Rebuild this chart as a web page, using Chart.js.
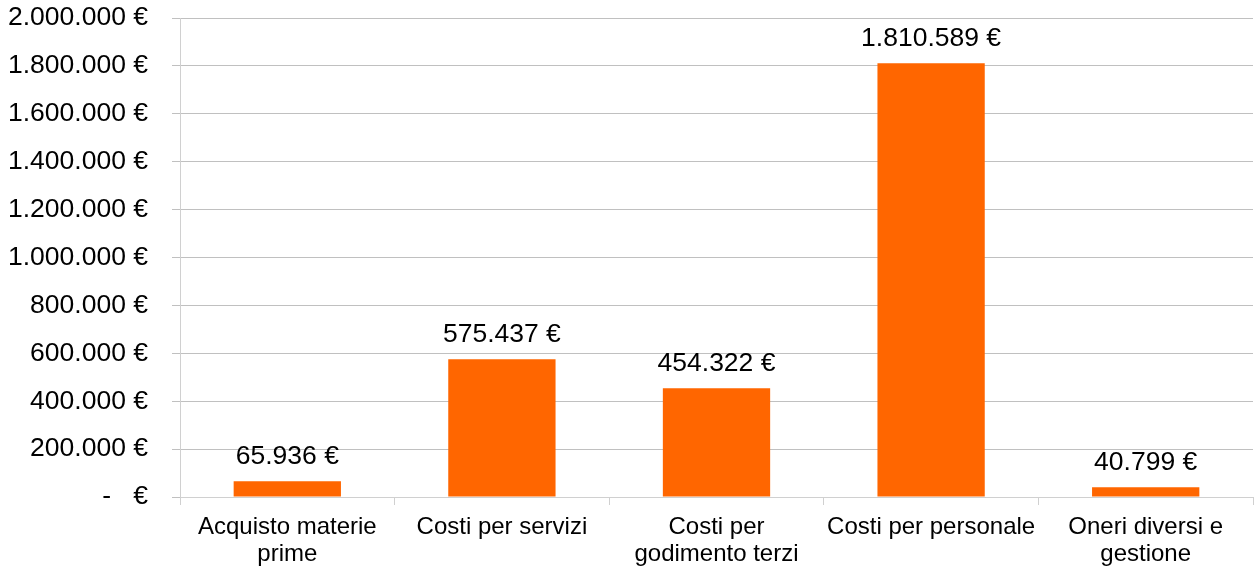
<!DOCTYPE html>
<html>
<head>
<meta charset="utf-8">
<script src="https://cdn.jsdelivr.net/npm/chart.js@4"></script>
<style>
  html, body { margin: 0; padding: 0; background: #fff; }
  #wrap { width: 1256px; height: 569px; }
</style>
</head>
<body>
<div id="wrap"><canvas id="costi"></canvas></div>
<script>
const categorie = [
  ["Acquisto materie", "prime"],
  "Costi per servizi",
  ["Costi per", "godimento terzi"],
  "Costi per personale",
  ["Oneri diversi e", "gestione"]
];
const importi = [65936, 575437, 454322, 1810589, 40799];

const yMax = 2000000;
const yStep = 200000;

function euro(v) {
  if (v === 0) return "-   €";
  return String(Math.round(v)).replace(/\B(?=(\d{3})+(?!\d))/g, ".") + " €";
}

// value labels above each bar
const etichette = {
  id: "etichette",
  afterDatasetsDraw(chart) {
    const ctx = chart.ctx;
    const meta = chart.getDatasetMeta(0);
    ctx.save();
    ctx.font = "26.5px 'Liberation Sans', Arial, sans-serif";
    ctx.fillStyle = "#000";
    ctx.textAlign = "center";
    ctx.textBaseline = "alphabetic";
    meta.data.forEach((bar, i) => {
      ctx.fillText(euro(importi[i]), bar.x, bar.y - 17);
    });
    ctx.restore();
  }
};

Chart.defaults.font.family = "'Liberation Sans', Arial, sans-serif";
Chart.defaults.color = "#000";

new Chart(document.getElementById("costi"), {
  type: "bar",
  data: {
    labels: categorie,
    datasets: [{
      data: importi,
      backgroundColor: "#ff6600",
      borderWidth: 0,
      categoryPercentage: 0.5,
      barPercentage: 1
    }]
  },
  options: {
    responsive: true,
    maintainAspectRatio: false,
    animation: false,
    layout: { padding: { top: 18, right: 3, left: 0, bottom: 0 } },
    plugins: {
      legend: { display: false },
      tooltip: { enabled: false }
    },
    scales: {
      x: {
        grid: {
          offset: true,
          drawOnChartArea: false,
          drawTicks: true,
          tickLength: 8,
          color: "#d0d0d0"
        },
        border: { color: "#d0d0d0" },
        ticks: {
          padding: 9,
          maxRotation: 0,
          autoSkip: false,
          font: { size: 24, lineHeight: 1.13 }
        },
        afterFit(s) { s.height = 72; }
      },
      y: {
        min: 0,
        max: yMax,
        grid: { color: "#c0c0c0", tickLength: 8 },
        border: { color: "#d0d0d0" },
        ticks: {
          stepSize: yStep,
          padding: 24,
          font: { size: 26.5 },
          callback: (v) => euro(v)
        },
        afterFit(s) {
          s.width = 180;
          s.paddingTop = 0;
          s.paddingBottom = 0;
        }
      }
    }
  },
  plugins: [etichette]
});
</script>
</body>
</html>
